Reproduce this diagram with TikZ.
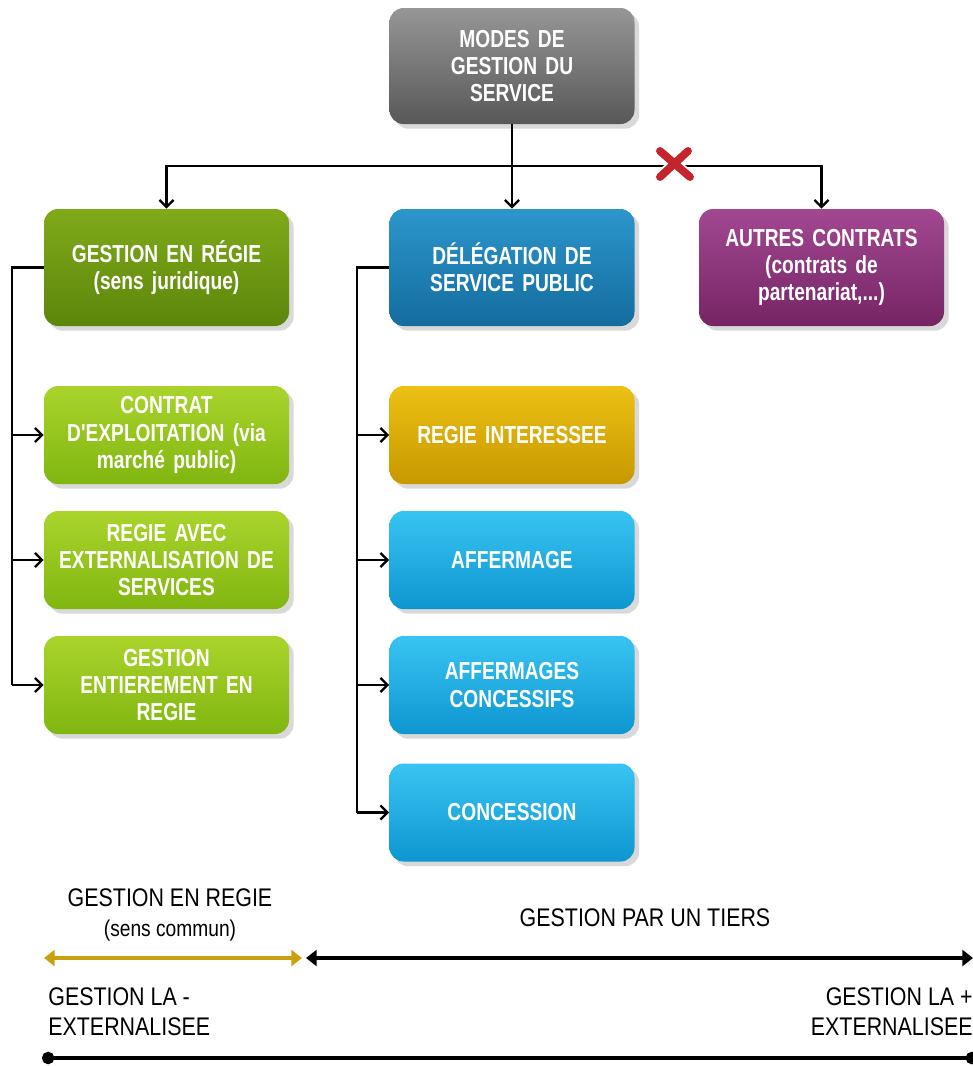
\documentclass[tikz,border=0pt]{standalone}
\usepackage{fontspec}
\setmainfont{Liberation Sans}
\newfontfamily\boxfont{Liberation Sans}[FakeStretch=0.78]
\newfontfamily\axisfont{Liberation Sans}[FakeStretch=0.84]
\usetikzlibrary{shadows,arrows.meta}
\definecolor{grayTop}{RGB}{150,150,150}
\definecolor{grayBot}{RGB}{88,88,88}
\definecolor{dgreenTop}{RGB}{128,170,26}
\definecolor{dgreenBot}{RGB}{92,134,10}
\definecolor{lgreenTop}{RGB}{170,212,44}
\definecolor{lgreenBot}{RGB}{128,182,16}
\definecolor{blueTop}{RGB}{44,150,204}
\definecolor{blueBot}{RGB}{20,108,158}
\definecolor{purpleTop}{RGB}{162,72,146}
\definecolor{purpleBot}{RGB}{118,36,100}
\definecolor{goldTop}{RGB}{236,192,20}
\definecolor{goldBot}{RGB}{200,152,0}
\definecolor{cyanTop}{RGB}{56,196,242}
\definecolor{cyanBot}{RGB}{14,150,208}
\definecolor{crossRed}{RGB}{196,36,44}
\definecolor{goldLine}{RGB}{200,160,16}
\begin{document}
\begin{tikzpicture}[roundnode/.style={rectangle, rounded corners=8pt, minimum width=4.9cm, text width=4.6cm, align=center, text=white, font=\boxfont\bfseries\fontsize{14}{15.5}\selectfont, drop shadow={shadow xshift=0.5ex, shadow yshift=-0.5ex, opacity=0.3}},
graynode/.style={roundnode, top color=grayTop, bottom color=grayBot, minimum height=2.32cm},
dgreennode/.style={roundnode, top color=dgreenTop, bottom color=dgreenBot, minimum height=2.34cm},
bluenode/.style={roundnode, top color=blueTop, bottom color=blueBot, minimum height=2.34cm},
purplenode/.style={roundnode, top color=purpleTop, bottom color=purpleBot, minimum height=2.34cm},
lgreennode/.style={roundnode, top color=lgreenTop, bottom color=lgreenBot, minimum height=1.96cm},
goldnode/.style={roundnode, top color=goldTop, bottom color=goldBot, minimum height=1.96cm},
cyannode/.style={roundnode, top color=cyanTop, bottom color=cyanBot, minimum height=1.96cm},
link/.style={black, line width=1.3pt},
arr/.style={link, -{Straight Barb[length=4pt, width=8pt]}},
axislabel/.style={font=\axisfont\fontsize{14.5}{17}\selectfont, inner sep=0pt}]
\useasboundingbox (0,0) rectangle (19.46,-21.32);

\node[graynode](modes) at (10.24, -1.32) {MODES DE\\GESTION DU\\SERVICE};

\node[dgreennode](regie) at (3.33, -5.35) {GESTION EN RÉGIE\\(sens juridique)};
\node[bluenode](dsp) at (10.24, -5.35) {DÉLÉGATION DE\\SERVICE PUBLIC};
\node[purplenode](autres) at (16.43, -5.35) {AUTRES CONTRATS\\(contrats de\\partenariat,...)};

\node[lgreennode](contrat) at (3.33, -8.70) {CONTRAT\\D'EXPLOITATION (via\\marché public)};
\node[lgreennode](externe) at (3.33, -11.20) {REGIE AVEC\\EXTERNALISATION DE\\SERVICES};
\node[lgreennode](entiere) at (3.33, -13.70) {GESTION\\ENTIEREMENT EN\\REGIE};

\node[goldnode](interessee) at (10.24, -8.70) {REGIE INTERESSEE};
\node[cyannode](affermage) at (10.24, -11.20) {AFFERMAGE};
\node[cyannode](concessifs) at (10.24, -13.70) {AFFERMAGES\\CONCESSIFS};
\node[cyannode](concession) at (10.24, -16.25) {CONCESSION};

\coordinate (fork) at (10.24, -3.32);
\draw[arr](modes.south) -- (dsp.north);
\draw[arr](fork) -| (regie.north);
\draw[arr](fork) -| (autres.north);

% croix rouge sur la branche des autres contrats
\begin{scope}[shift={(13.5,-3.28)}]
\draw[white, line width=6.5pt, line cap=round] (-0.3,0.26) -- (0.3,-0.26) (0.26,0.26) -- (-0.3,-0.26);
\draw[crossRed, line width=4.5pt, line cap=round] (-0.3,0.26) -- (0.3,-0.26) (0.26,0.26) -- (-0.3,-0.26);
\end{scope}

\coordinate (railA) at (0.24, -5.35);
\draw[link](regie.west) -- (railA) -- (railA |- entiere.west);
\foreach \n in {contrat, externe, entiere}
  \draw[arr](railA |- \n.west) -- (\n.west);

\coordinate (railB) at (7.14, -5.35);
\draw[link](dsp.west) -- (railB) -- (railB |- concession.west);
\foreach \n in {interessee, affermage, concessifs, concession}
  \draw[arr](railB |- \n.west) -- (\n.west);

%%%%%%%%%%%%%%%%%%%%%%%%%%%%%%%%%%%%%%%%%%%%%%%%%%%%%%%%%%%%%%%%%%%%%%%

\node[axislabel, align=center](regieCommun) at (3.40, -18.30) {GESTION EN REGIE\\{\fontsize{13}{15}\selectfont (sens commun)}};
\node[axislabel](tiers) at (12.90, -18.36) {GESTION PAR UN TIERS};
\node[axislabel, align=left, anchor=west](moins) at (0.96, -20.24) {GESTION LA -\\EXTERNALISEE};
\node[axislabel, align=right, anchor=east](plus) at (19.46, -20.24) {GESTION LA +\\EXTERNALISEE};

\coordinate (goldL) at (0.88, -19.16);
\coordinate (goldR) at (6.04, -19.16);
\coordinate (blackL) at (6.12, -19.16);
\coordinate (blackR) at (19.46, -19.16);
\draw[goldLine, line width=2.3pt, {Triangle[length=6pt, width=9pt]}-{Triangle[length=6pt, width=9pt]}] (goldL) -- (goldR);
\draw[black, line width=2.3pt, {Triangle[length=6pt, width=9pt]}-{Triangle[length=6pt, width=9pt]}] (blackL) -- (blackR);

\coordinate (axeL) at (0.84, -21.16);
\coordinate (axeR) at (19.56, -21.16);
\draw[black, line width=2.3pt, {Circle[length=7pt]}-{Circle[length=7pt]}] (axeL) -- (axeR);

\end{tikzpicture}
\end{document}
